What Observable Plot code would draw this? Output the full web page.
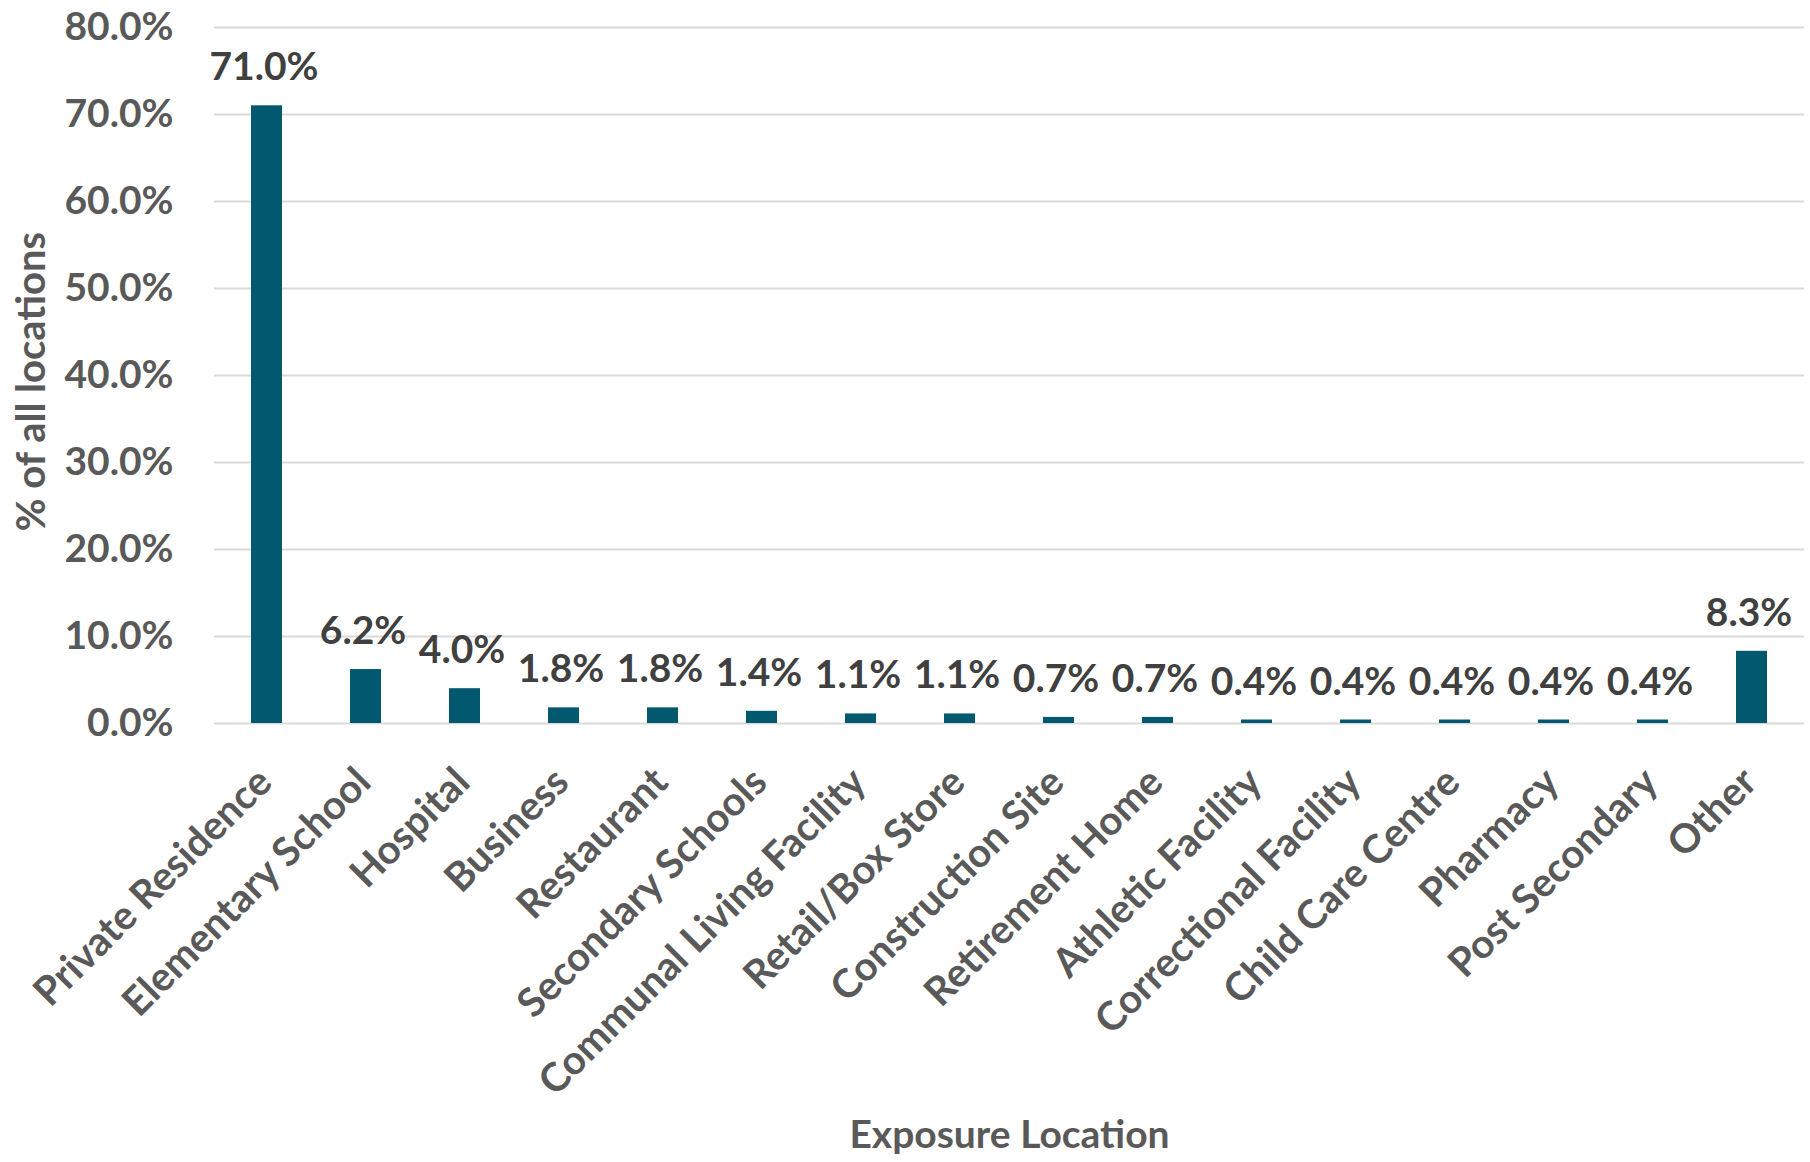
<!DOCTYPE html>
<html>
<head>
<meta charset="utf-8">
<script src="https://cdn.jsdelivr.net/npm/d3@7"></script>
<script src="https://cdn.jsdelivr.net/npm/@observablehq/plot@0.6"></script>
<style>
  html, body { margin: 0; padding: 0; background: #ffffff; }
  #chart svg { display: block; }
</style>
</head>
<body>
<div id="chart"></div>
<script>
const categories = [
  "Private Residence", "Elementary School", "Hospital", "Business", "Restaurant",
  "Secondary Schools", "Communal Living Facility", "Retail/Box Store", "Construction Site",
  "Retirement Home", "Athletic Facility", "Correctional Facility", "Child Care Centre",
  "Pharmacy", "Post Secondary", "Other"
];
const values = [71.0, 6.2, 4.0, 1.8, 1.8, 1.4, 1.1, 1.1, 0.7, 0.7, 0.4, 0.4, 0.4, 0.4, 0.4, 8.3];
const yTicks = [0, 10, 20, 30, 40, 50, 60, 70, 80];
const xTitle = "Exposure Location";
const yTitle = "% of all locations";

const data = categories.map((c, i) => ({category: c, value: values[i]}));
const pct = d => d.toFixed(1) + "%";

const chart = Plot.plot({
  width: 1810,
  height: 1162,
  marginLeft: 214,
  marginRight: 6,
  marginTop: 27,
  marginBottom: 439,
  style: {fontFamily: "Lato, sans-serif", fontWeight: 700, background: "#ffffff"},
  x: {domain: categories, paddingInner: 0.69, paddingOuter: 0.345, align: 0.5},
  y: {domain: [0, 80]},
  marks: [
    Plot.gridY(yTicks, {stroke: "#d9d9d9", strokeOpacity: 1, strokeWidth: 2}),
    Plot.barY(data, {x: "category", y: "value", fill: "#02586e"}),
    Plot.text(data, {x: "category", y: "value", text: d => pct(d.value), dy: -38, dx: -3, fontSize: 39, fill: "#404040", fontWeight: 700}),
    Plot.axisY(yTicks, {tickFormat: pct, tickSize: 0, tickPadding: 41, fontSize: 39, fill: "#595959", label: null}),
    Plot.axisX({tickSize: 0, tickRotate: -45, tickPadding: 0, textAnchor: "end", lineAnchor: "middle", dx: -2, dy: 52, fontSize: 40, fill: "#595959", label: null}),
    Plot.text([xTitle], {frameAnchor: "bottom", dy: 424, fontSize: 39, fill: "#595959", fontWeight: 700}),
    Plot.text([yTitle], {frameAnchor: "left", textAnchor: "middle", rotate: -90, dx: -182, dy: 6, fontSize: 40, fill: "#595959", fontWeight: 700})
  ]
});
document.getElementById("chart").appendChild(chart);
</script>
</body>
</html>
